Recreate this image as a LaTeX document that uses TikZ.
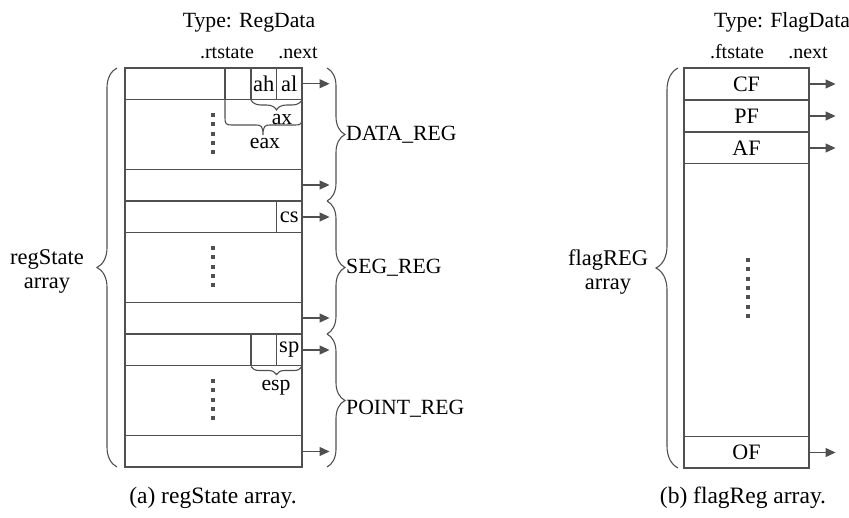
\documentclass[tikz,border=0pt]{standalone}
\usepackage{fontspec}
\setmainfont{Liberation Serif}
\usetikzlibrary{decorations.pathreplacing,arrows.meta}
\definecolor{ln}{HTML}{505050}
\tikzset{
  x=1pt,y=-1pt,
  txt/.style={inner sep=0pt,font=\fontsize{21.7}{24}\selectfont,anchor=base},
  captxt/.style={inner sep=0pt,font=\fontsize{23.5}{26}\selectfont,anchor=base},
  fld/.style={inner sep=0pt,font=\fontsize{20}{24}\selectfont,anchor=base},
  rowbox/.style={draw=ln,line width=1.1pt,minimum width=177pt,minimum height=31.5pt,inner sep=0pt},
  frowbox/.style={draw=ln,line width=1.1pt,minimum width=125pt,minimum height=31.5pt,inner sep=0pt,font=\fontsize{22}{24}\selectfont},
  cellbox/.style={draw=ln,line width=1.1pt,minimum height=31.5pt,inner sep=0pt,font=\fontsize{22.5}{24}\selectfont},
  outer/.style={draw=ln,line width=1.5pt,inner sep=0pt},
  arr/.style={draw=ln,line width=1.1pt,-{Triangle[length=10pt,width=9pt]}},
  brc/.style={draw=ln,line width=1.1pt,decorate,decoration={brace,amplitude=#1}},
  dotcol/.style={draw=ln,line width=4pt,dash pattern=on 4pt off 5.3pt},
}
\begin{document}
\begin{tikzpicture}
\useasboundingbox (0,0) rectangle (849,517);
% ===== left array =====
\node[txt] (typeA) at (249,27) {Type: RegData};
\node[fld] (rts) at (227,58) {.rtstate};
\node[fld] (nxA) at (298,58) {.next};
\node[outer,minimum width=177pt,minimum height=399pt] (boxA) at (213.5,267.5) {};
\node[rowbox] (rA1) at (213.5,83.75) {};
\node[rowbox] (rA2) at (213.5,185) {};
\node[rowbox] (rB1) at (213.5,217) {};
\node[rowbox] (rB2) at (213.5,318) {};
\node[rowbox] (rC1) at (213.5,350) {};
\node[rowbox] (rC2) at (213.5,451.5) {};
\node[cellbox,minimum width=26pt] (c0) at (238,83.75) {};
\node[cellbox,minimum width=25.5pt] (cah) at (263.75,83.75) {ah};
\node[cellbox,minimum width=25.5pt] (cal) at (289.25,83.75) {al};
\node[cellbox,minimum width=25.5pt] (ccs) at (289.25,217) {cs};
\node[cellbox,minimum width=25.5pt] (c1) at (263.75,350) {};
\node[cellbox,minimum width=25.5pt] (csp) at (289.25,350) {sp};
% dots
\draw[dotcol] (213,113) -- (213,157);
\draw[dotcol] (213,246) -- (213,290);
\draw[dotcol] (213,379) -- (213,423);
% braces ax / eax / esp
\draw[brc=10pt] (302,100) -- (251,100);
\draw[ln,line width=1.1pt] (225,100) -- (225,118) .. controls (225,124) and (226,125) .. (232,125) -- (256,125) .. controls (261,125) and (263,126) .. (263,135) .. controls (263,126) and (265,125) .. (270,125) -- (295,125) .. controls (301,125) and (302,124) .. (302,118) -- (302,100);
\node[txt] (ax) at (282,124) {ax};
\node[txt] (eax) at (265,148) {eax};
\draw[brc=8pt] (302,366.5) -- (251,366.5);
\node[txt] (esp) at (276,390) {esp};
% arrows
\foreach \r in {rA1,rA2,rB1,rB2,rC1,rC2}{
  \coordinate (e\r) at ([xshift=27pt]\r.east);
  \draw[arr] (\r.east) -- (e\r);
}
% right braces
\draw[brc=18pt] (327,68) -- (327,201);
\draw[brc=18pt] (327,201) -- (327,334);
\draw[brc=18pt] (327,334) -- (327,467);
\node[txt,anchor=west] (dreg) at (346,134.5) {DATA\_REG};
\node[txt,anchor=west] (sreg) at (346,267.5) {SEG\_REG};
\node[txt,anchor=west] (preg) at (346,408.5) {POINT\_REG};
% left brace
\draw[brc=20pt] (117,467) -- (117,68);
\node[txt,anchor=center,align=center,font=\fontsize{22.5}{24}\selectfont] (lblA) at (47,271) {regState\\array};
\node[captxt] (capA) at (213,503) {(a) regState array.};
% ===== right array =====
\node[txt] (typeB) at (782,27) {Type: FlagData};
\node[fld] (fts) at (737,58) {.ftstate};
\node[fld] (nxB) at (808,58) {.next};
\node[outer,minimum width=125pt,minimum height=400pt] (boxB) at (746.5,268) {};
\node[frowbox] (fCF) at (746.5,84) {CF};
\node[frowbox] (fPF) at (746.5,116) {PF};
\node[frowbox] (fAF) at (746.5,148) {AF};
\node[frowbox] (fOF) at (746.5,452.5) {OF};
\foreach \r in {fCF,fPF,fAF,fOF}{
  \coordinate (e\r) at ([xshift=26pt]\r.east);
  \draw[arr] (\r.east) -- (e\r);
}
\draw[dotcol] (748,258) -- (748,320);
\draw[brc=22pt] (678,468) -- (678,68);
\node[txt,anchor=center,align=center,font=\fontsize{22.5}{24}\selectfont] (lblB) at (608,272) {flagREG\\array};
\node[captxt] (capB) at (743,503) {(b) flagReg array.};
\end{tikzpicture}
\end{document}
